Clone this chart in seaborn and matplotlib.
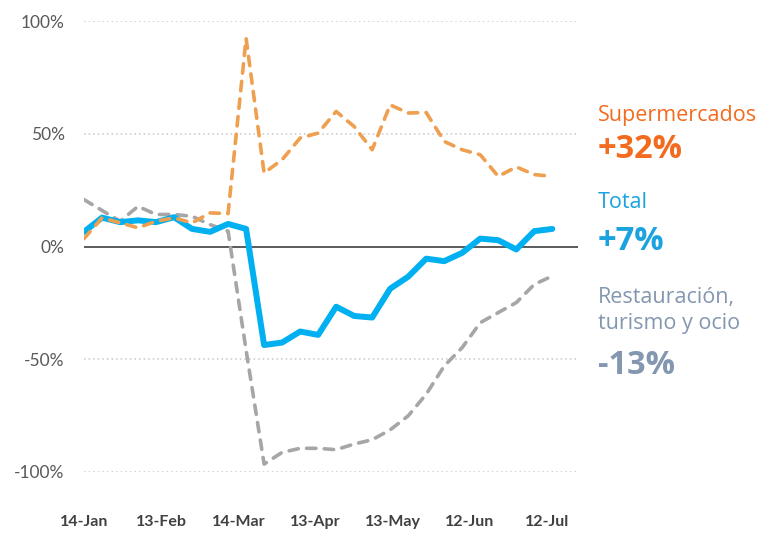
import pandas as pd
import numpy as np
import seaborn as sns
import matplotlib.pyplot as plt

# datos semanales (variación %)
fechas = pd.date_range('2020-01-14', periods=27, freq='7D')

supermercados = [3.5, 12.7, 10.5, 8.3, 11.2, 12.7, 10.5, 14.9, 14.6, 92.3,
                 32.6, 38.5, 48.1, 50.3, 59.9, 53.2, 42.9, 62.8, 59.2, 59.4,
                 46.6, 42.9, 40.7, 31.1, 35.3, 31.9, 31.1]
total = [6.5, 12.8, 10.8, 11.6, 10.8, 13.0, 7.8, 6.5, 10.0, 7.8,
         -43.7, -42.6, -37.7, -39.2, -26.7, -30.8, -31.5, -18.7, -13.4, -5.4,
         -6.5, -2.8, 3.5, 2.8, -1.3, 6.8, 7.8]
restauracion = [20.8, 16.0, 11.2, 17.8, 14.2, 14.2, 13.4, 9.7, 6.8, -46.0,
                -96.5, -91.3, -89.5, -89.5, -90.1, -87.6, -85.7, -81.3, -75.1, -65.5,
                -53.0, -44.8, -33.8, -29.3, -24.9, -16.8, -13.1]

tick_fechas = ['2020-01-14', '2020-02-13', '2020-03-14', '2020-04-13',
               '2020-05-13', '2020-06-12', '2020-07-12']
tick_labels = ['14-Jan', '13-Feb', '14-Mar', '13-Apr', '13-May', '12-Jun', '12-Jul']
y_ticks = [-100, -50, 0, 50, 100]
y_labels = ['-100%', '-50%', '0%', '50%', '100%']

data = pd.DataFrame({'fecha': fechas, 'Supermercados': supermercados,
                     'Total': total, 'Restauracion': restauracion})

sns.set_theme(style='white')
plt.rcParams['font.family'] = ['Lato', 'DejaVu Sans']

fig = plt.figure(figsize=(7.71, 5.33), dpi=100)
ax = fig.add_axes([84 / 771, 1 - 472 / 533, (578 - 84) / 771, (472 - 21) / 533])

# lineas de referencia
for y in [-100, -50, 50, 100]:
    ax.axhline(y, color='#C8C8C8', lw=1.1, linestyle=(0, (1, 2)), zorder=0)
ax.axhline(0, color='#404040', lw=1.2, zorder=1)

sns.lineplot(data=data, x='fecha', y='Restauracion', ax=ax, color='#A6A6A6',
             lw=2.6, linestyle=(0, (2.6, 2.3)), dash_capstyle='round', zorder=2)
sns.lineplot(data=data, x='fecha', y='Total', ax=ax, color='#00B0F0',
             lw=4.3, solid_capstyle='round', zorder=3)
sns.lineplot(data=data, x='fecha', y='Supermercados', ax=ax, color='#EE9F4F',
             lw=2.6, linestyle=(0, (2.6, 2.3)), dash_capstyle='round', zorder=4)

ax.set_ylim(-100, 100)
ax.set_xlim(pd.Timestamp('2020-01-14'), pd.Timestamp('2020-07-24'))
ax.set_xticks(pd.to_datetime(tick_fechas))
ax.set_xticklabels(tick_labels, fontsize=11.5, color='#404040', fontweight='bold')
ax.set_yticks(y_ticks)
ax.set_yticklabels(y_labels, fontsize=12.5, color='#595959')
ax.tick_params(axis='x', length=0, pad=31)
ax.tick_params(axis='y', length=0, pad=14)
ax.set_xlabel('')
ax.set_ylabel('')
for s in ax.spines.values():
    s.set_visible(False)

# etiquetas a la derecha
x0 = 598 / 771
fam = ['Open Sans', 'DejaVu Sans']
fig.text(x0, 1 - 115 / 533, 'Supermercados', color='#F26B1F', fontsize=15.5, family=fam, va='center')
fig.text(x0, 1 - 150 / 533, '+32%', color='#F26B1F', fontsize=23.5, family=fam, fontweight='bold', va='center')
fig.text(x0, 1 - 202 / 533, 'Total', color='#1AA3DE', fontsize=15.5, family=fam, va='center')
fig.text(x0, 1 - 241 / 533, '+7%', color='#1AA3DE', fontsize=23.5, family=fam, fontweight='bold', va='center')
fig.text(x0, 1 - 297 / 533, 'Restauración,', color='#8497B0', fontsize=15.5, family=fam, va='center')
fig.text(x0, 1 - 324 / 533, 'turismo y ocio', color='#8497B0', fontsize=15.5, family=fam, va='center')
fig.text(x0, 1 - 366 / 533, '-13%', color='#8497B0', fontsize=23.5, family=fam, fontweight='bold', va='center')

fig.savefig('out.png', dpi=100)
